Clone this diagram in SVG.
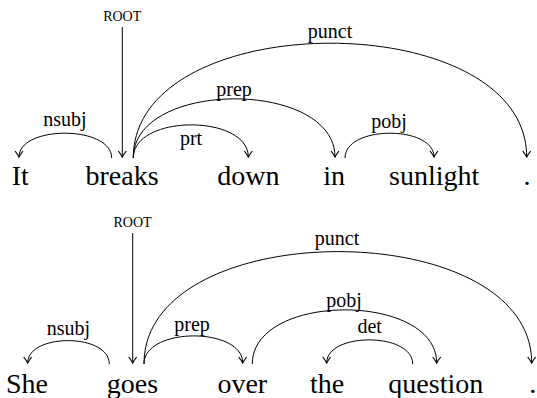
<svg xmlns="http://www.w3.org/2000/svg" width="537" height="398" viewBox="0 0 537 398">
  <style>
    text { font-family: "Liberation Serif", "Times New Roman", Times, serif; fill: #000; text-anchor: middle; }
    .word { font-size: 28px; }
    .lbl { font-size: 20px; }
    .root { font-size: 14px; }
    .arc { fill: none; stroke: #000; stroke-width: 1; marker-end: url(#tip); }
  </style>
  <defs>
    <marker id="tip" markerUnits="userSpaceOnUse" orient="auto" markerWidth="12" markerHeight="12" viewBox="-7 -5 9 10" refX="0" refY="0" overflow="visible">
      <path d="M-5,-3.3 Q-1.8,-0.9 0,0 Q-1.8,0.9 -5,3.3" fill="none" stroke="#000" stroke-width="1"/>
    </marker>
  </defs>

  <!-- sentence 1: It breaks down in sunlight . -->
  <g id="s1-it"><text class="word" x="20.3" y="185">It</text></g>
  <g id="s1-breaks"><text class="word" x="122" y="185">breaks</text></g>
  <g id="s1-down"><text class="word" x="248.3" y="185">down</text></g>
  <g id="s1-in"><text class="word" x="334.2" y="185">in</text></g>
  <g id="s1-sunlight"><text class="word" x="434.2" y="185">sunlight</text></g>
  <g id="s1-period"><text class="word" x="527" y="185">.</text></g>

  <!-- sentence 2: She goes over the question . -->
  <g id="s2-she"><text class="word" x="27" y="393">She</text></g>
  <g id="s2-goes"><text class="word" x="132.5" y="393">goes</text></g>
  <g id="s2-over"><text class="word" x="242.3" y="393">over</text></g>
  <g id="s2-the"><text class="word" x="327" y="393">the</text></g>
  <g id="s2-question"><text class="word" x="435.8" y="393">question</text></g>
  <g id="s2-period"><text class="word" x="532.7" y="393">.</text></g>

  <g id="connectors">
    <!-- sentence 1 arcs -->
    <g id="s1-root-edge">
      <text class="root" x="122.2" y="21">ROOT</text>
      <path class="arc" d="M122.3,27 L122.3,157"/>
    </g>
    <g id="s1-nsubj">
      <text class="lbl" x="65" y="126">nsubj</text>
      <path class="arc" d="M111.7,158 C111.7,125.1 19,125.1 19,157"/>
    </g>
    <g id="s1-prt">
      <text class="lbl" x="191" y="145">prt</text>
      <path class="arc" d="M133.3,158 C133.3,114 248.3,114 248.3,157"/>
    </g>
    <g id="s1-prep">
      <text class="lbl" x="234" y="96">prep</text>
      <path class="arc" d="M133.3,158 C133.3,79.3 335,79.3 335,157"/>
    </g>
    <g id="s1-punct">
      <text class="lbl" x="330" y="37.5">punct</text>
      <path class="arc" d="M133.3,158 C133.3,5.1 526.7,5.1 526.7,157"/>
    </g>
    <g id="s1-pobj">
      <text class="lbl" x="389" y="128">pobj</text>
      <path class="arc" d="M345,158 C345,125.1 434,125.1 434,157"/>
    </g>

    <!-- sentence 2 arcs -->
    <g id="s2-root-edge">
      <text class="root" x="132.5" y="227">ROOT</text>
      <path class="arc" d="M132.7,233 L132.7,363"/>
    </g>
    <g id="s2-nsubj">
      <text class="lbl" x="68.3" y="335">nsubj</text>
      <path class="arc" d="M109.3,364 C109.3,333 27.7,333 27.7,363"/>
    </g>
    <g id="s2-prep">
      <text class="lbl" x="192" y="331">prep</text>
      <path class="arc" d="M144,364 C144,326.7 242.7,326.7 242.7,363"/>
    </g>
    <g id="s2-punct">
      <text class="lbl" x="337" y="245">punct</text>
      <path class="arc" d="M144,364 C144,214.3 531.7,214.3 531.7,363"/>
    </g>
    <g id="s2-pobj">
      <text class="lbl" x="344" y="307">pobj</text>
      <path class="arc" d="M252.3,364 C252.3,292 436.7,292 436.7,363"/>
    </g>
    <g id="s2-det">
      <text class="lbl" x="369.7" y="333">det</text>
      <path class="arc" d="M412.7,364 C412.7,332 326.7,332 326.7,363"/>
    </g>
  </g>
</svg>
